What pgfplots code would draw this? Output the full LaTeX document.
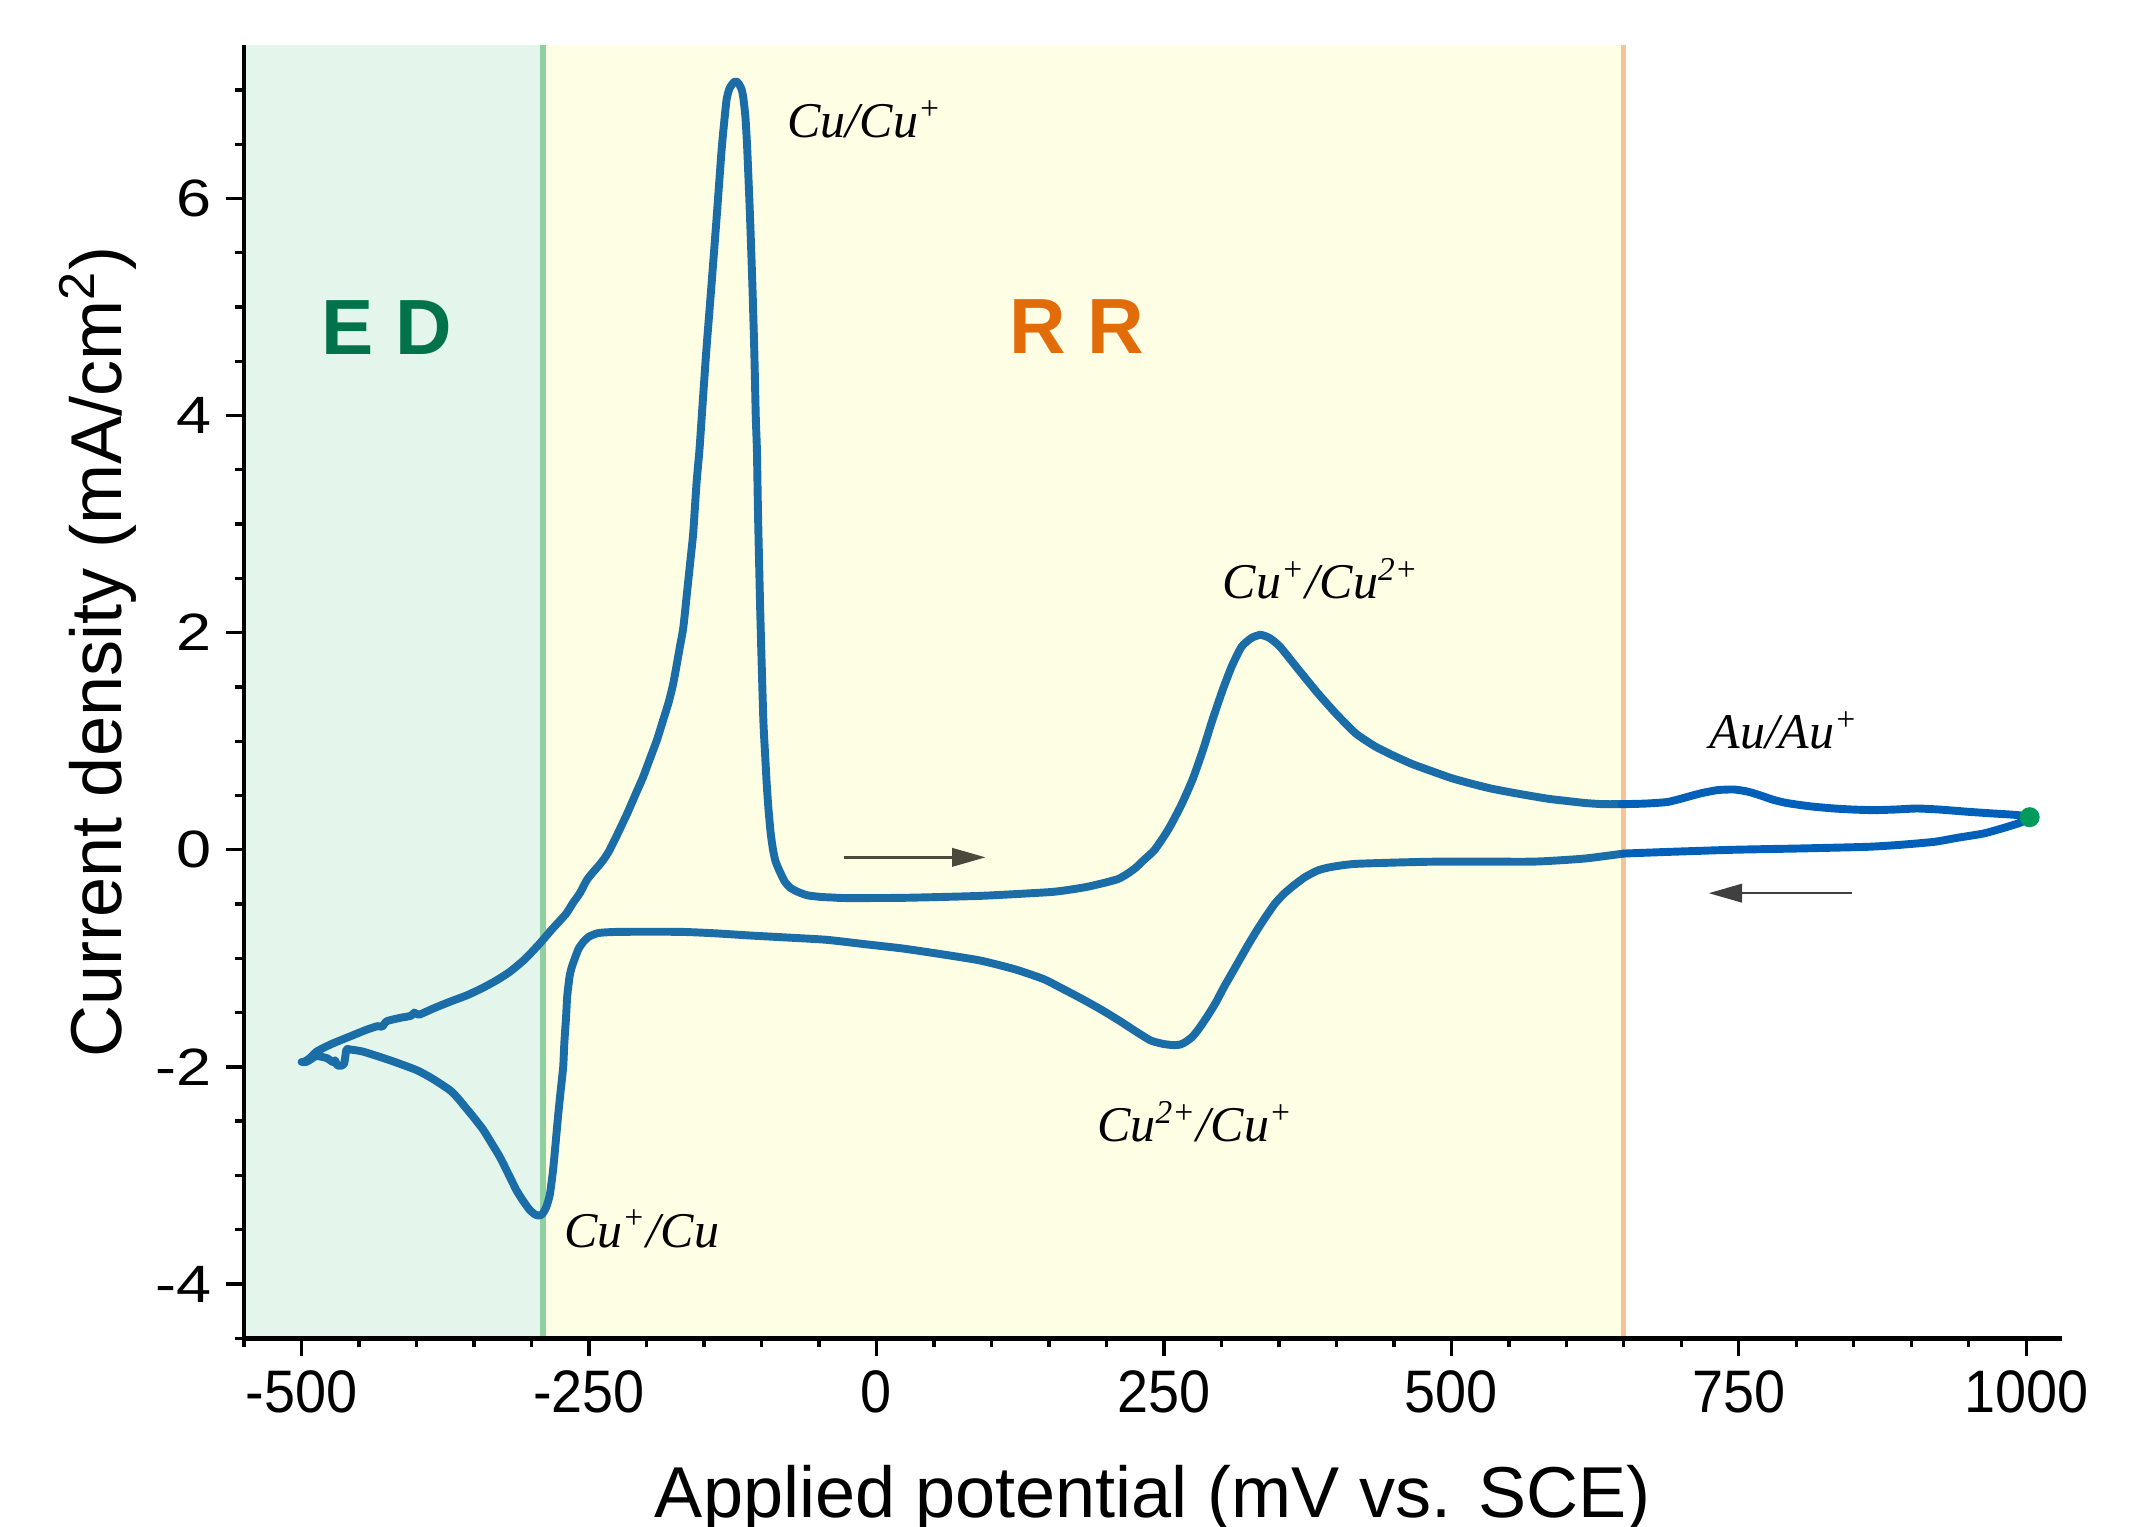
\documentclass[border=0pt]{standalone}
\usepackage{fontspec}
\setmainfont{Liberation Sans}
\newfontfamily\serifit{Liberation Serif}
\usepackage{graphicx}
\usepackage{pgfplots}
\pgfplotsset{compat=1.18}
\usetikzlibrary{arrows.meta}

\definecolor{cvblue}{HTML}{1B6DA8}
\definecolor{cvblue2}{HTML}{005FB8}
\definecolor{edfill}{HTML}{E4F5EC}
\definecolor{rrfill}{HTML}{FEFEE4}
\definecolor{edline}{HTML}{90D0A0}
\definecolor{rrline}{HTML}{F6C394}
\definecolor{edtext}{HTML}{00734A}
\definecolor{rrtext}{HTML}{E36C0A}
\definecolor{dotgreen}{HTML}{009A5A}
\definecolor{arrowc}{HTML}{4A4A3C}

\begin{document}
\begin{tikzpicture}
\begin{axis}[
  scale only axis, width=436.3pt, height=310.3pt,
  xmin=-550, xmax=1031, ymin=-4.5, ymax=7.41,
  axis x line=bottom, axis y line=left,
  axis line style={-, line width=1.1pt, color=black},
  xtick={-500,-250,...,1000}, ytick={-4,-2,...,6},
  minor xtick={-550,-500,...,1000}, minor ytick={-4.5,-4,...,7},
  tick align=outside,
  major tick length=4.3pt, minor tick length=2.2pt,
  every tick/.style={black, line width=0.8pt},
  /pgf/number format/assume math mode=true,
  /pgf/number format/1000 sep={},
  xticklabel={\scalebox{0.93}[1]{\fontsize{14.4}{16}\selectfont\pgfmathprintnumber{\tick}}},
  yticklabel={\scalebox{1.2}[1]{\fontsize{12.6}{14}\selectfont\pgfmathprintnumber{\tick}}},
  xlabel={Applied potential (mV vs. SCE)},
  ylabel={Current density (mA/cm\textsuperscript{2})},
  label style={font=\fontsize{17.3}{20}\selectfont},
  xlabel style={at={(axis description cs:0.5,-0.1387)}, anchor=base},
  ylabel style={at={(axis description cs:-0.0677,0.531)}, anchor=base},
  clip=false,
  axis on top,
]
\fill[edfill] (axis cs:-550,-4.5) rectangle (axis cs:-290,7.41);
\fill[rrfill] (axis cs:-290,-4.5) rectangle (axis cs:650,7.41);
\draw[edline, line width=1.4pt] (axis cs:-290,-4.5) -- (axis cs:-290,7.41);
\draw[rrline, line width=1.2pt] (axis cs:650,-4.5) -- (axis cs:650,7.41);

\addplot[cvblue, line width=1.9pt, line join=round, line cap=round, smooth, tension=0.35] coordinates {
(650,-0.035) (617,-0.08) (590,-0.10) (567,-0.11) (484,-0.11) (417,-0.13) (395,-0.16) (384,-0.19) (373,-0.25) (364,-0.32) (355,-0.40) (347,-0.49) (339,-0.61) (331,-0.74) (323,-0.88) (316,-1.01) (309,-1.14) (302,-1.27) (295,-1.41) (288,-1.53) (281,-1.64) (275,-1.72) (269,-1.77) (264,-1.795) (258,-1.80) (250,-1.79) (244,-1.775) (238,-1.755) (225,-1.67) (212,-1.58) (195,-1.47) (178,-1.37) (160,-1.27) (145,-1.19) (120,-1.10) (90,-1.02) (55,-0.96) (23,-0.91) (-10,-0.87) (-43,-0.83) (-75,-0.81) (-110,-0.79) (-140,-0.77) (-168,-0.757) (-200,-0.755) (-226,-0.757) (-237,-0.762) (-243,-0.77) (-250,-0.80) (-255,-0.85) (-259,-0.91) (-262,-0.99) (-265,-1.08) (-267,-1.17) (-269,-1.35) (-270,-1.54) (-271.5,-1.78) (-272.5,-2.00) (-275,-2.25) (-277,-2.46) (-281,-2.92) (-284,-3.17) (-286.5,-3.27) (-288.5,-3.32) (-291,-3.36) (-294,-3.37) (-297,-3.36) (-301.5,-3.32) (-307,-3.24) (-313,-3.14) (-320,-2.99) (-327.6,-2.83) (-335,-2.70) (-342,-2.58) (-350,-2.47) (-357,-2.38) (-364,-2.29) (-371,-2.215) (-386,-2.11) (-400,-2.03) (-423,-1.94) (-446.5,-1.86) (-458,-1.84) (-461,-1.84) (-463,-1.97) (-466,-1.99) (-469,-1.985) (-471,-1.94) (-473,-1.955) (-478,-1.92) (-487,-1.90) (-492,-1.93) (-496,-1.955) (-500,-1.955)
(-497,-1.95) (-493,-1.92) (-487,-1.86) (-480,-1.82) (-473,-1.785) (-465,-1.75) (-458,-1.72) (-444,-1.66) (-434,-1.625) (-430,-1.63) (-426,-1.58) (-415,-1.55) (-405,-1.53) (-402,-1.50) (-398,-1.52) (-385,-1.46) (-371,-1.40) (-356,-1.34) (-342,-1.27) (-330,-1.20) (-319,-1.125) (-306,-1.01) (-293,-0.865) (-282,-0.73) (-270,-0.59) (-264,-0.49) (-258,-0.40) (-252,-0.28) (-246,-0.20) (-241,-0.14) (-236,-0.07) (-232,0.0) (-225,0.15) (-217,0.33) (-210,0.50) (-203,0.67) (-197,0.84) (-191,1.01) (-186,1.18) (-181,1.35) (-177,1.52) (-174,1.69) (-171,1.87) (-168,2.05) (-164,2.45) (-161.5,2.70) (-159.4,2.92) (-156.5,3.38) (-154,3.68) (-152,3.99) (-148,4.60) (-143.4,5.22) (-139,5.83) (-134.7,6.45) (-132.5,6.70) (-130.4,6.91) (-128,7.01) (-125,7.06) (-122.5,7.08) (-120,7.06) (-117.5,7.01) (-116,6.94) (-114,6.75) (-112.4,6.45) (-110,5.83) (-108,5.22) (-106.3,4.60) (-105,3.99) (-104,3.68) (-103,3.07) (-101,2.15) (-98.5,1.22) (-97,0.90) (-95.5,0.61) (-94,0.38) (-92,0.15) (-90,0.0) (-88,-0.10) (-85,-0.18) (-80,-0.29) (-75,-0.35) (-68,-0.39) (-60,-0.42) (-48,-0.435) (-38,-0.44) (-27,-0.445) (23,-0.443) (90,-0.425) (151,-0.39) (170,-0.365) (184,-0.34) (200,-0.30) (210,-0.27) (217,-0.23) (225,-0.17) (233,-0.09) (242,0.0) (254,0.19) (265,0.41) (275,0.65) (284,0.92) (292,1.19) (301,1.47) (309,1.69) (317.5,1.87) (326,1.95) (334,1.98) (342,1.95) (351,1.87) (367,1.66) (384,1.44) (400,1.25) (417,1.07) (434,0.95) (451,0.86) (467,0.785) (484,0.72) (500,0.66) (517,0.61) (534,0.565) (551,0.53) (567,0.50) (584,0.47) (600,0.45) (617,0.43) (632,0.42) (648,0.42)
};
\addplot[cvblue2, line width=1.9pt, line join=round, line cap=round, smooth, tension=0.35] coordinates {
(648,0.42) (668,0.425) (688,0.44) (703,0.48) (717,0.52) (732,0.55) (746,0.555) (758,0.535) (769,0.50) (780,0.46) (792,0.43) (812,0.40) (833,0.38) (850,0.37) (867,0.365) (885,0.37) (905,0.38) (925,0.37) (949,0.35) (970,0.335) (992,0.32) (1003,0.30) (995,0.25) (980,0.20) (963,0.15) (940,0.11) (920,0.073) (890,0.045) (862,0.027) (804,0.012) (746,0.0) (688,-0.02) (650,-0.035)
};
\addplot[only marks, mark=*, mark size=2.2pt, color=dotgreen, mark options={draw=dotgreen, fill=dotgreen}] coordinates {(1003,0.30)};

\draw[arrowc, line width=0.6pt, -{Triangle[length=8pt,width=4.4pt]}] (axis cs:-28.5,-0.07) -- (axis cs:94.8,-0.07);
\draw[black!75, line width=0.6pt, -{Triangle[length=8pt,width=4.4pt]}] (axis cs:848.6,-0.40) -- (axis cs:723.8,-0.40);

\begin{scope}[every node/.style={inner sep=0pt, font=\serifit\itshape\fontsize{12}{14}\selectfont}]
\node[anchor=base west] at (axis cs:-78,6.56) {Cu/Cu\textsuperscript{+}};
\node[anchor=base west] at (axis cs:300.6,2.316) {Cu\textsuperscript{+}/Cu\textsuperscript{2+}};
\node[anchor=base west] at (axis cs:191.3,-2.69) {Cu\textsuperscript{2+}/Cu\textsuperscript{+}};
\node[anchor=base west] at (axis cs:-272.5,-3.66) {Cu\textsuperscript{+}/Cu};
\node[anchor=base west] at (axis cs:723.8,0.934) {Au/Au\textsuperscript{+}};
\end{scope}
\node[anchor=base, inner sep=0pt, text=edtext, font=\bfseries\fontsize{18.8}{20}\selectfont] at (axis cs:-426,4.56) {E D};
\node[anchor=base, inner sep=0pt, text=rrtext, font=\bfseries\fontsize{18.8}{20}\selectfont] at (axis cs:174.5,4.57) {R R};
\end{axis}
\pgfresetboundingbox
\path ([shift={(-58.6pt,-45.2pt)}]current axis.south west) rectangle ([shift={(17.8pt,10.9pt)}]current axis.north east);
\end{tikzpicture}
\end{document}
